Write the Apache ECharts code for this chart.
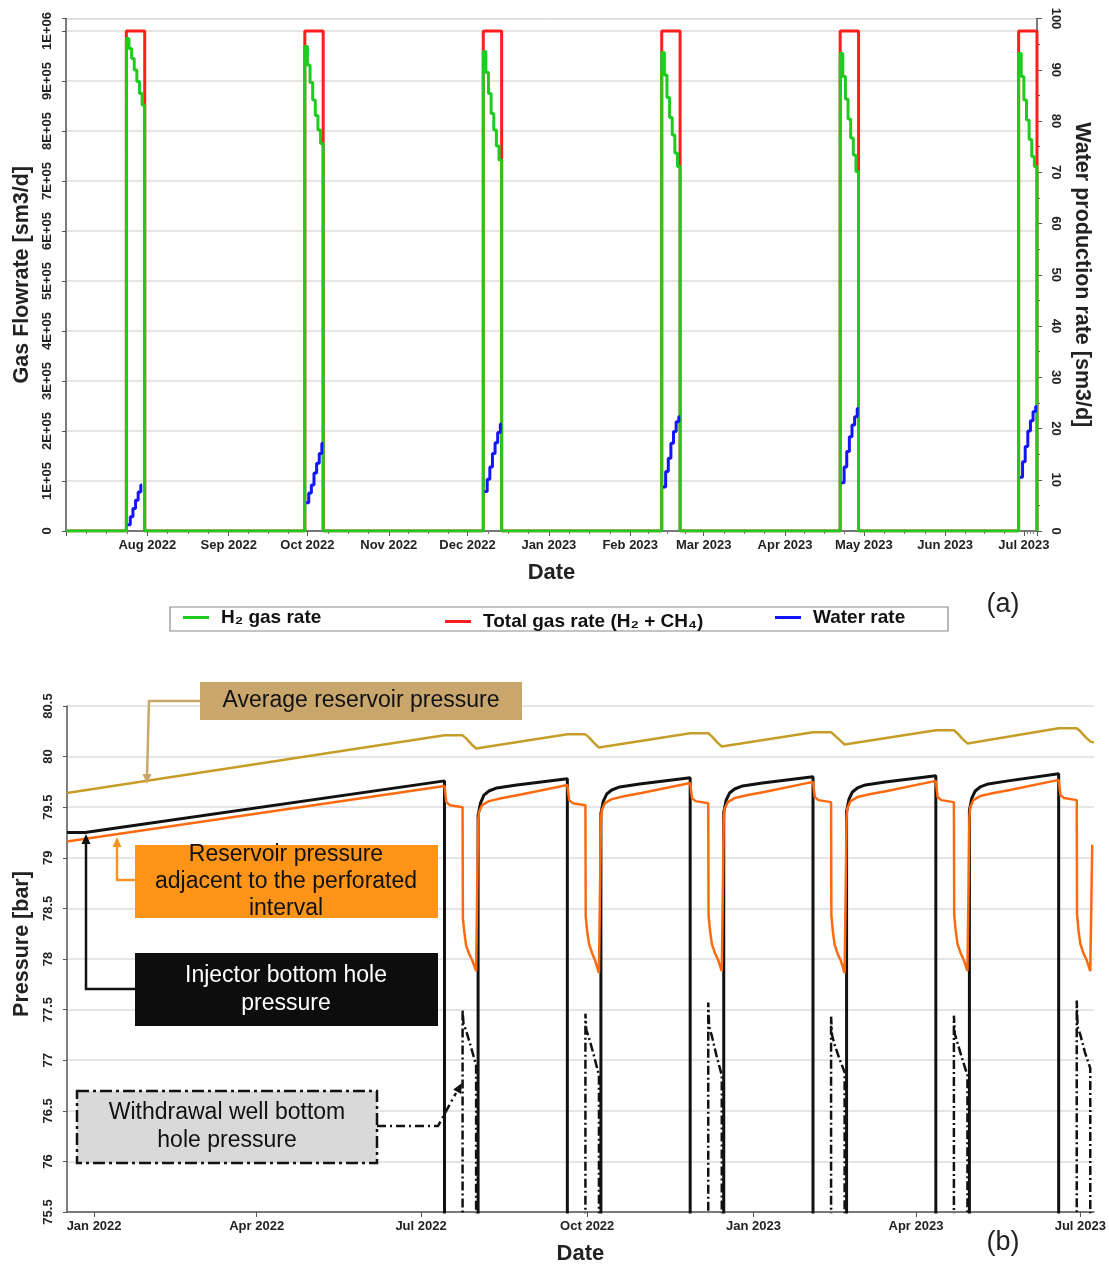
<!DOCTYPE html>
<html><head><meta charset="utf-8">
<script src="https://cdn.jsdelivr.net/npm/echarts@6/dist/echarts.min.js"></script>
<style>html,body{margin:0;padding:0;background:#fff}#c{width:1109px;height:1266px}</style>
</head><body><div id="c"></div>
<script>
// ---------- (a) production cycles ----------
const cycleStarts = ['2022-07-24','2022-09-30','2022-12-07','2023-02-13','2023-04-22','2023-06-29'];
const withdrawalDays = 7;
const h2GasRate = [
  [985000, 965000, 945000, 922000, 899000, 875000, 852000],
  [969000, 932000, 897000, 862000, 831000, 802000, 775000],
  [959000, 917000, 875000, 835000, 802000, 770000, 742000],
  [957000, 912000, 867000, 827000, 792000, 756000, 729000],
  [955000, 909000, 864000, 824000, 786000, 752000, 719000],
  [955000, 909000, 862000, 822000, 783000, 749000, 729000]
];
const totalGasRate = [1000000, 1000000, 1000000, 1000000, 1000000, 1000000];
const waterRate = [
  [1.2, 2.8, 4.4, 6.0, 7.6, 9.0],
  [5.5, 7.4, 9.0, 11.3, 13.2, 15.1, 17.1],
  [7.7, 10.1, 12.5, 15.1, 17.2, 19.2, 20.9],
  [8.6, 11.6, 14.2, 17.1, 19.4, 21.3, 22.3],
  [9.4, 12.5, 15.5, 18.4, 20.7, 22.3, 23.9],
  [10.5, 13.5, 16.5, 19.5, 21.5, 23.3, 24.3]
];
const topAxisStart = '2022-07-01';
const topAxisEnd = '2023-07-06';
const gasTicks = [0, 100000, 200000, 300000, 400000, 500000, 600000, 700000, 800000, 900000, 1000000];

// ---------- (b) pressures ----------
const botAxisStart = '2021-12-17';
const botAxisEnd = '2023-07-08 12:00';
const avgReservoirPressure = [
  ['2021-12-17', 79.64], ['2022-07-14', 80.21], ['2022-07-24', 80.21], ['2022-07-26', 80.18], ['2022-07-29', 80.12], ['2022-07-31 12:00', 80.08], ['2022-08-01 14:00', 80.08],
  ['2022-09-20', 80.22], ['2022-09-30', 80.22], ['2022-10-02', 80.19], ['2022-10-05', 80.13], ['2022-10-07 12:00', 80.09], ['2022-10-08 14:00', 80.09],
  ['2022-11-27', 80.23], ['2022-12-07', 80.23], ['2022-12-09', 80.20], ['2022-12-12', 80.14], ['2022-12-14 12:00', 80.10], ['2022-12-15 14:00', 80.10],
  ['2023-02-03', 80.24], ['2023-02-13', 80.24], ['2023-02-15', 80.21], ['2023-02-18', 80.16], ['2023-02-20 12:00', 80.12], ['2023-02-21 14:00', 80.12],
  ['2023-04-12', 80.26], ['2023-04-22', 80.26], ['2023-04-24', 80.23], ['2023-04-27', 80.17], ['2023-04-29 12:00', 80.13], ['2023-04-30 14:00', 80.13],
  ['2023-06-19', 80.28], ['2023-06-29', 80.28], ['2023-07-01', 80.25], ['2023-07-04', 80.19], ['2023-07-06 12:00', 80.15], ['2023-07-08 12:00', 80.14]
];
const injectorBHP = [
  ['2021-12-17', 79.25], ['2021-12-27', 79.25], ['2022-07-14', 79.76], ['2022-07-14', 70],
  ['2022-08-01 14:00', 70], ['2022-08-01 14:00', 79.42], ['2022-08-02 22:00', 79.54], ['2022-08-04 19:00', 79.62], ['2022-08-07 14:00', 79.66], ['2022-08-12', 79.69], ['2022-08-23', 79.72], ['2022-09-20', 79.78], ['2022-09-20', 70],
  ['2022-10-08 14:00', 70], ['2022-10-08 14:00', 79.44], ['2022-10-09 22:00', 79.56], ['2022-10-11 19:00', 79.63], ['2022-10-14 14:00', 79.67], ['2022-10-19', 79.70], ['2022-10-30', 79.73], ['2022-11-27', 79.79], ['2022-11-27', 70],
  ['2022-12-15 14:00', 70], ['2022-12-15 14:00', 79.45], ['2022-12-16 22:00', 79.57], ['2022-12-18 19:00', 79.64], ['2022-12-21 14:00', 79.68], ['2022-12-26', 79.71], ['2023-01-06', 79.74], ['2023-02-03', 79.80], ['2023-02-03', 70],
  ['2023-02-21 14:00', 70], ['2023-02-21 14:00', 79.46], ['2023-02-22 22:00', 79.58], ['2023-02-24 19:00', 79.65], ['2023-02-27 14:00', 79.69], ['2023-03-04', 79.72], ['2023-03-15', 79.75], ['2023-04-12', 79.81], ['2023-04-12', 70],
  ['2023-04-30 14:00', 70], ['2023-04-30 14:00', 79.47], ['2023-05-01 22:00', 79.59], ['2023-05-03 19:00', 79.66], ['2023-05-06 14:00', 79.70], ['2023-05-11', 79.73], ['2023-05-22', 79.76], ['2023-06-19', 79.83], ['2023-06-19', 70],
  ['2023-07-08 12:00', 70]
];
const adjacentPressure = [
  ['2021-12-17', 79.16], ['2022-07-14', 79.71], ['2022-07-15', 79.55], ['2022-07-17', 79.52], ['2022-07-24', 79.50],
  ['2022-07-24 04:00', 78.40], ['2022-07-25', 78.26], ['2022-07-26', 78.13], ['2022-07-27 16:00', 78.05], ['2022-07-29 12:00', 77.98], ['2022-07-31 12:00', 77.88],
  ['2022-08-01 14:00', 79.35], ['2022-08-02', 79.45], ['2022-08-03 19:00', 79.52], ['2022-08-07 14:00', 79.56], ['2022-08-15', 79.59], ['2022-08-24', 79.62], ['2022-09-20', 79.72],
  ['2022-09-21', 79.57], ['2022-09-23', 79.54], ['2022-09-30', 79.52],
  ['2022-09-30 04:00', 78.42], ['2022-10-01', 78.27], ['2022-10-02', 78.15], ['2022-10-03 16:00', 78.06], ['2022-10-05 12:00', 77.98], ['2022-10-07 12:00', 77.86],
  ['2022-10-08 14:00', 79.37], ['2022-10-09', 79.47], ['2022-10-10 19:00', 79.54], ['2022-10-14 14:00', 79.58], ['2022-10-22', 79.61], ['2022-10-31', 79.64], ['2022-11-27', 79.74],
  ['2022-11-28', 79.59], ['2022-11-30', 79.56], ['2022-12-07', 79.54],
  ['2022-12-07 04:00', 78.43], ['2022-12-08', 78.28], ['2022-12-09', 78.15], ['2022-12-10 16:00', 78.06], ['2022-12-12 12:00', 77.99], ['2022-12-14 12:00', 77.88],
  ['2022-12-15 14:00', 79.38], ['2022-12-16', 79.48], ['2022-12-17 19:00', 79.55], ['2022-12-21 14:00', 79.59], ['2022-12-29', 79.62], ['2023-01-07', 79.65], ['2023-02-03', 79.75],
  ['2023-02-04', 79.60], ['2023-02-06', 79.57], ['2023-02-13', 79.55],
  ['2023-02-13 04:00', 78.43], ['2023-02-14', 78.27], ['2023-02-15', 78.14], ['2023-02-16 16:00', 78.05], ['2023-02-18 12:00', 77.98], ['2023-02-20 12:00', 77.86],
  ['2023-02-21 14:00', 79.39], ['2023-02-22', 79.49], ['2023-02-23 19:00', 79.56], ['2023-02-27 14:00', 79.60], ['2023-03-07', 79.63], ['2023-03-16', 79.66], ['2023-04-12', 79.76],
  ['2023-04-13', 79.60], ['2023-04-15', 79.57], ['2023-04-22', 79.55],
  ['2023-04-22 04:00', 78.43], ['2023-04-23', 78.28], ['2023-04-24', 78.15], ['2023-04-25 16:00', 78.06], ['2023-04-27 12:00', 77.99], ['2023-04-29 12:00', 77.88],
  ['2023-04-30 14:00', 79.40], ['2023-05-01', 79.50], ['2023-05-02 19:00', 79.57], ['2023-05-06 14:00', 79.61], ['2023-05-14', 79.64], ['2023-05-23', 79.67], ['2023-06-19', 79.77],
  ['2023-06-20', 79.62], ['2023-06-22', 79.59], ['2023-06-29', 79.57],
  ['2023-06-29 04:00', 78.44], ['2023-06-30', 78.28], ['2023-07-01', 78.15], ['2023-07-02 16:00', 78.06], ['2023-07-04 12:00', 77.99], ['2023-07-06 12:00', 77.88],
  ['2023-07-07 14:00', 79.13]
];
const withdrawalBHP = [
  ['2022-07-24', 70], ['2022-07-24', 77.50], ['2022-07-24 12:00', 77.36], ['2022-07-26', 77.29], ['2022-07-28 12:00', 77.14], ['2022-07-31 12:00', 76.95], ['2022-07-31 12:00', 70],
  ['2022-09-30', 70], ['2022-09-30', 77.46], ['2022-09-30 12:00', 77.30], ['2022-10-02', 77.22], ['2022-10-04 12:00', 77.06], ['2022-10-07 12:00', 76.85], ['2022-10-07 12:00', 70],
  ['2022-12-07', 70], ['2022-12-07', 77.57], ['2022-12-07 12:00', 77.33], ['2022-12-09', 77.24], ['2022-12-11 12:00', 77.05], ['2022-12-14 12:00', 76.85], ['2022-12-14 12:00', 70],
  ['2023-02-13', 70], ['2023-02-13', 77.43], ['2023-02-13 12:00', 77.25], ['2023-02-15', 77.15], ['2023-02-17 12:00', 77.02], ['2023-02-20 12:00', 76.88], ['2023-02-20 12:00', 70],
  ['2023-04-22', 70], ['2023-04-22', 77.44], ['2023-04-22 12:00', 77.26], ['2023-04-24', 77.17], ['2023-04-26 12:00', 77.02], ['2023-04-29 12:00', 76.85], ['2023-04-29 12:00', 70],
  ['2023-06-29', 70], ['2023-06-29', 77.59], ['2023-06-29 12:00', 77.33], ['2023-07-01', 77.25], ['2023-07-03 12:00', 77.08], ['2023-07-06 12:00', 76.92], ['2023-07-06 12:00', 70]
];
const pressureTicks = [75.5, 76, 76.5, 77, 77.5, 78, 78.5, 79, 79.5, 80, 80.5];

// ---------- helpers ----------
const DAY = 86400000;
const MONTHS = ['Jan','Feb','Mar','Apr','May','Jun','Jul','Aug','Sep','Oct','Nov','Dec'];
function ts(s, offsetDays) {
  const [dp, tp] = s.split(' ');
  const [y, m, d] = dp.split('-').map(Number);
  const [hh, mm] = tp ? tp.split(':').map(Number) : [0, 0];
  return new Date(y, m - 1, d, hh, mm).getTime() + (offsetDays || 0) * DAY;
}
const topMin = ts(topAxisStart), topMax = ts(topAxisEnd);
const botMin = ts(botAxisStart), botMax = ts(botAxisEnd);

const h2Data = [[topMin, 0]];
const totalData = [[topMin, 0]];
const waterData = [];
cycleStarts.forEach((s, c) => {
  h2GasRate[c].forEach((v, i) => h2Data.push([ts(s, i), v]));
  h2Data.push([ts(s, withdrawalDays), 0]);
  totalData.push([ts(s, 0), totalGasRate[c]]);
  totalData.push([ts(s, withdrawalDays), 0]);
  const w = waterRate[c];
  w.forEach((v, i) => waterData.push([ts(s, 0.5 + i), v]));
  waterData.push([ts(s, w.length - 0.3), w[w.length - 1]]);
  waterData.push([ts(s, w.length), null]);
});
h2Data.push([topMax, 0]);
totalData.push([topMax, 0]);

function monthFmt(minTs) {
  return function (v) {
    const d = new Date(v);
    if (v <= minTs || d.getDate() !== 1 || d.getHours() !== 0 || d.getMinutes() !== 0) return '';
    return MONTHS[d.getMonth()] + ' ' + d.getFullYear();
  };
}
function sciFmt(v) {
  if (v === 0) return '0';
  if (gasTicks.indexOf(v) < 0) return '';
  const e = Math.floor(Math.log10(v) + 1e-9);
  const m = Math.round(v / Math.pow(10, e));
  return m + 'E+' + String(e).padStart(2, '0');
}
function pFmt(v) { return pressureTicks.indexOf(v) < 0 ? '' : String(v); }

const FONT = '"Liberation Sans", Arial, sans-serif';
const AX = '#555';
const lblStyle = { color: '#222', fontWeight: 'bold', fontSize: 13, fontFamily: FONT };
const nameStyle = { color: '#222', fontWeight: 'bold', fontSize: 21.5, fontFamily: FONT };

const GREEN = '#1FCB1F', RED = '#FF1E1E', BLUE = '#1414FF';
const GOLD = '#C59E2A', ORANGE = '#FF6A10', BLACK = '#111';
const GOLD_BOX = '#C9A66B', ORANGE_BOX = '#FF9419', GREY_BOX = '#D9D9D9';

const legendCommon = {
  icon: 'rect', itemWidth: 26, itemHeight: 3, padding: 0, selectedMode: false,
  textStyle: { fontSize: 19, fontWeight: 'bold', color: '#111', fontFamily: FONT, padding: [0, 0, 0, 7] }
};
const annFont = '23px "Liberation Sans", Arial, sans-serif';

function arrow(tip, from, color) {
  const dx = tip[0] - from[0], dy = tip[1] - from[1];
  const L = Math.hypot(dx, dy), ux = dx / L, uy = dy / L;
  const bx = tip[0] - ux * 10, by = tip[1] - uy * 10;
  return { type: 'polygon', z: 100, shape: { points: [tip, [bx - uy * 4.5, by + ux * 4.5], [bx + uy * 4.5, by - ux * 4.5]] }, style: { fill: color } };
}
function label(x, y, text, fill, lh) {
  return { type: 'text', z: 101, x: x, y: y, style: { text: text, font: annFont, lineHeight: lh || 28, fill: fill, align: 'center', verticalAlign: 'middle', textAlign: 'center', textVerticalAlign: 'middle' } };
}

const option = {
  backgroundColor: '#fff',
  animation: false,
  grid: [
    { left: 66, top: 18.5, width: 971, height: 512.5, show: true, borderColor: '#e4e4e4', borderWidth: 1 },
    { left: 67, top: 706, width: 1029, height: 509 }
  ],
  xAxis: [
    {
      type: 'time', gridIndex: 0, min: topMin, max: topMax, minInterval: 28 * DAY, maxInterval: 31 * DAY,
      splitLine: { show: false },
      axisLine: { lineStyle: { color: AX, width: 1.5 } },
      axisTick: { length: 5, lineStyle: { color: AX } },
      minorTick: { show: true, splitNumber: 4, length: 3, lineStyle: { color: '#777' } },
      axisLabel: Object.assign({ formatter: monthFmt(topMin), margin: 8, hideOverlap: false }, lblStyle),
      name: 'Date', nameLocation: 'middle', nameGap: 31, nameTextStyle: Object.assign({}, nameStyle, { fontSize: 22 })
    },
    {
      type: 'time', gridIndex: 1, min: botMin, max: botMax, minInterval: 89 * DAY, maxInterval: 92 * DAY,
      splitLine: { show: false },
      axisLine: { lineStyle: { color: AX, width: 1.5 } },
      axisTick: { length: 5, lineStyle: { color: AX } },
      axisLabel: Object.assign({ formatter: monthFmt(botMin), margin: 8, hideOverlap: false }, lblStyle),
      name: 'Date', nameLocation: 'middle', nameGap: 31, nameTextStyle: Object.assign({}, nameStyle, { fontSize: 22 })
    }
  ],
  yAxis: [
    {
      type: 'value', gridIndex: 0, min: 0, max: 1025000, interval: 100000,
      splitLine: { show: true, lineStyle: { color: '#dcdcdc', width: 1.5 } },
      axisLine: { show: true, lineStyle: { color: AX, width: 1.5 } },
      axisTick: { show: true, length: 4, lineStyle: { color: AX } },
      axisLabel: Object.assign({ formatter: sciFmt, rotate: 90, margin: 12 }, lblStyle),
      name: 'Gas Flowrate [sm3/d]', nameLocation: 'middle', nameGap: 33, nameTextStyle: nameStyle
    },
    {
      type: 'value', gridIndex: 0, min: 0, max: 100, interval: 10, position: 'right',
      splitLine: { show: false },
      axisLine: { show: true, lineStyle: { color: AX, width: 1.5 } },
      axisTick: { show: true, length: 5, lineStyle: { color: AX } },
      minorTick: { show: true, splitNumber: 2, length: 3, lineStyle: { color: AX } },
      axisLabel: Object.assign({ rotate: -90, margin: 12 }, lblStyle),
      name: 'Water production rate [sm3/d]', nameLocation: 'middle', nameGap: 34, nameRotate: -90, nameTextStyle: nameStyle
    },
    {
      type: 'value', gridIndex: 1, min: 75.5, max: 80.5, interval: 0.5,
      splitLine: { show: true, lineStyle: { color: '#dcdcdc', width: 1.5 } },
      axisLine: { show: true, lineStyle: { color: AX, width: 1.5 } },
      axisTick: { show: true, length: 4, lineStyle: { color: AX } },
      axisLabel: Object.assign({ formatter: pFmt, rotate: 90, margin: 12 }, lblStyle),
      name: 'Pressure [bar]', nameLocation: 'middle', nameGap: 34,
      nameTextStyle: Object.assign({}, nameStyle, { padding: [0, 0, 0, 30] })
    }
  ],
  legend: [
    Object.assign({ data: ['H₂ gas rate'], left: 183, top: 608 }, legendCommon),
    Object.assign({ data: ['Total gas rate (H₂ + CH₄)'], left: 445, top: 612 }, legendCommon),
    Object.assign({ data: ['Water rate'], left: 775, top: 608 }, legendCommon)
  ],
  series: [
    { name: 'Total gas rate (H₂ + CH₄)', type: 'line', xAxisIndex: 0, yAxisIndex: 0, step: 'end', symbol: 'none', data: totalData,
      lineStyle: { color: RED, width: 3 }, itemStyle: { color: RED } },
    { name: 'H₂ gas rate', type: 'line', xAxisIndex: 0, yAxisIndex: 0, step: 'end', symbol: 'none', data: h2Data,
      lineStyle: { color: GREEN, width: 3 }, itemStyle: { color: GREEN } },
    { name: 'Water rate', type: 'line', xAxisIndex: 0, yAxisIndex: 1, step: 'end', symbol: 'none', data: waterData, connectNulls: false,
      lineStyle: { color: BLUE, width: 3 }, itemStyle: { color: BLUE } },
    { name: 'Average reservoir pressure', type: 'line', xAxisIndex: 1, yAxisIndex: 2, symbol: 'none', data: avgReservoirPressure,
      lineStyle: { color: GOLD, width: 2.5 }, itemStyle: { color: GOLD } },
    { name: 'Withdrawal well bottom hole pressure', type: 'line', xAxisIndex: 1, yAxisIndex: 2, symbol: 'none', data: withdrawalBHP,
      lineStyle: { color: BLACK, width: 2.5, type: [9, 3, 2, 3] }, itemStyle: { color: BLACK } },
    { name: 'Injector bottom hole pressure', type: 'line', xAxisIndex: 1, yAxisIndex: 2, symbol: 'none', data: injectorBHP,
      lineStyle: { color: BLACK, width: 3 }, itemStyle: { color: BLACK } },
    { name: 'Reservoir pressure adjacent to the perforated interval', type: 'line', xAxisIndex: 1, yAxisIndex: 2, symbol: 'none', data: adjacentPressure,
      lineStyle: { color: ORANGE, width: 2.5 }, itemStyle: { color: ORANGE } }
  ],
  graphic: [
    // legend frame (a)
    { type: 'rect', z: 1, shape: { x: 170, y: 607, width: 778, height: 24 }, style: { fill: 'none', stroke: '#8a8a8a', lineWidth: 1.2 } },
    { type: 'text', z: 100, x: 1003, y: 605, style: { text: '(a)', font: '27px "Liberation Sans", Arial, sans-serif', fill: '#222', align: 'center', verticalAlign: 'middle', textAlign: 'center', textVerticalAlign: 'middle' } },
    { type: 'text', z: 100, x: 1003, y: 1243, style: { text: '(b)', font: '27px "Liberation Sans", Arial, sans-serif', fill: '#222', align: 'center', verticalAlign: 'middle', textAlign: 'center', textVerticalAlign: 'middle' } },

    // Average reservoir pressure
    { type: 'polyline', z: 100, shape: { points: [[200, 701], [149, 701], [147, 776]] }, style: { stroke: GOLD_BOX, lineWidth: 2.5, fill: null } },
    arrow([147, 784], [147, 776], GOLD_BOX),
    { type: 'rect', z: 100, shape: { x: 200, y: 682, width: 322, height: 38 }, style: { fill: GOLD_BOX } },
    label(361, 701, 'Average reservoir pressure', '#111'),

    // Reservoir pressure adjacent
    { type: 'polyline', z: 100, shape: { points: [[135, 880], [117, 880], [117, 846]] }, style: { stroke: '#F8931F', lineWidth: 2.5, fill: null } },
    arrow([117, 837], [117, 846], '#F8931F'),
    { type: 'rect', z: 100, shape: { x: 135, y: 845, width: 303, height: 73 }, style: { fill: ORANGE_BOX } },
    label(286, 882, 'Reservoir pressure\nadjacent to the perforated\ninterval', '#111', 27),

    // Injector BHP
    { type: 'polyline', z: 100, shape: { points: [[135, 989], [86, 989], [86, 843]] }, style: { stroke: BLACK, lineWidth: 2.5, fill: null } },
    arrow([86, 834], [86, 843], BLACK),
    { type: 'rect', z: 100, shape: { x: 135, y: 953, width: 303, height: 73 }, style: { fill: '#0d0d0d' } },
    label(286, 990, 'Injector bottom hole\npressure', '#fff', 28),

    // Withdrawal BHP
    { type: 'polyline', z: 100, shape: { points: [[377, 1126], [438, 1126], [456, 1093]] }, style: { stroke: BLACK, lineWidth: 2.5, fill: null, lineDash: [9, 4, 2, 4] } },
    arrow([462, 1083], [438, 1126], BLACK),
    { type: 'rect', z: 100, shape: { x: 77, y: 1091, width: 300, height: 72 }, style: { fill: GREY_BOX, stroke: BLACK, lineWidth: 2.5, lineDash: [12, 4, 3, 4] } },
    label(227, 1127, 'Withdrawal well bottom\nhole pressure', '#111', 28)
  ]
};

const chart = echarts.init(document.getElementById('c'), null, { renderer: 'canvas' });
chart.setOption(option);
</script>
</body></html>
